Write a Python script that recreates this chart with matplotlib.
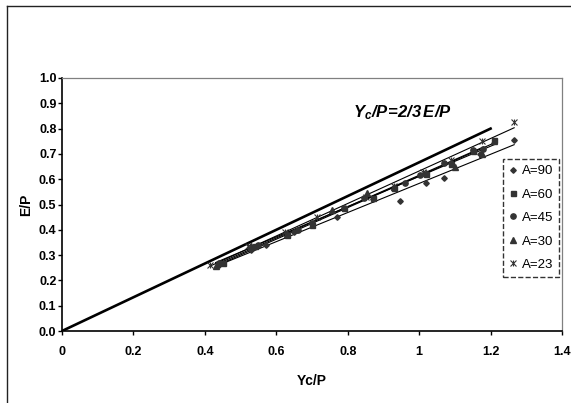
import numpy as np
import matplotlib
matplotlib.use("Agg")
import matplotlib.pyplot as plt
from matplotlib.path import Path
from matplotlib.lines import Line2D

plt.rcParams['font.family'] = ['Liberation Sans', 'DejaVu Sans']
plt.rcParams['mathtext.fontset'] = 'custom'
plt.rcParams['mathtext.rm'] = 'Liberation Sans:bold:italic'
plt.rcParams['mathtext.it'] = 'Liberation Sans:bold:italic'

# data
x_a90 = [0.44, 0.53, 0.57, 0.65, 0.77, 0.87, 0.947, 1.02, 1.07, 1.17, 1.266]
y_a90 = [0.26, 0.32, 0.34, 0.39, 0.45, 0.52, 0.515, 0.585, 0.605, 0.70, 0.755]

x_a60 = [0.45, 0.54, 0.63, 0.70, 0.79, 0.87, 0.93, 1.02, 1.09, 1.15, 1.21]
y_a60 = [0.27, 0.335, 0.38, 0.42, 0.485, 0.525, 0.565, 0.62, 0.66, 0.71, 0.755]

x_a45 = [0.44, 0.55, 0.66, 0.70, 0.79, 0.845, 0.96, 1.003, 1.07, 1.15, 1.18]
y_a45 = [0.27, 0.34, 0.40, 0.425, 0.485, 0.525, 0.585, 0.617, 0.665, 0.715, 0.72]

x_a30 = [0.43, 0.53, 0.63, 0.755, 0.853, 0.93, 1.02, 1.10, 1.175, 1.21]
y_a30 = [0.255, 0.335, 0.385, 0.478, 0.545, 0.57, 0.625, 0.65, 0.70, 0.75]

x_a23 = [0.415, 0.52, 0.625, 0.714, 0.85, 0.93, 1.01, 1.09, 1.175, 1.266]
y_a23 = [0.26, 0.336, 0.39, 0.45, 0.53, 0.575, 0.63, 0.675, 0.75, 0.826]

labels = ['A=90', 'A=60', 'A=45', 'A=30', 'A=23']

# theory line E/P = 2/3 Yc/P
x_theory = [0.0, 1.2]
y_theory = [0.0, 0.8]

xticks = [0, 0.2, 0.4, 0.6, 0.8, 1, 1.2, 1.4]
xticklabels = ['0', '0.2', '0.4', '0.6', '0.8', '1', '1.2', '1.4']
yticks = [0.0, 0.1, 0.2, 0.3, 0.4, 0.5, 0.6, 0.7, 0.8, 0.9, 1.0]

# excel style "star" marker: x with a vertical bar
star = Path([(0, -1), (0, 1), (-1, -1), (1, 1), (-1, 1), (1, -1)],
            [Path.MOVETO, Path.LINETO] * 3)

fig = plt.figure(figsize=(5.71, 4.03), dpi=100)
ax = fig.add_axes([62/571, 1-331/403, 500/571, 253/403])

ax.plot(x_theory, y_theory, color='black', lw=1.9, zorder=3)

series = [(x_a90, y_a90, 'D', 2.8), (x_a60, y_a60, 's', 3.6),
          (x_a45, y_a45, 'o', 3.8), (x_a30, y_a30, '^', 4.0),
          (x_a23, y_a23, star, 4.3)]
mcol = '#333333'
for (xs, ys, m, ms), lab in zip(series, labels):
    xs = np.array(xs)
    ys = np.array(ys)
    if m is star:
        ax.plot(xs, ys, ls='none', marker=m, ms=ms, mec=mcol, mew=0.8, label=lab, zorder=4)
    else:
        ax.plot(xs, ys, ls='none', marker=m, ms=ms, color=mcol, mec=mcol, label=lab, zorder=4)
    # linear trend line
    k, b = np.polyfit(xs, ys, 1)
    xx = np.array([xs.min(), xs.max()])
    ax.plot(xx, k*xx + b, color='black', lw=0.8, zorder=2)

ax.set_xlim(0, 1.4)
ax.set_ylim(0, 1.0)
ax.set_xticks(xticks)
ax.set_xticklabels(xticklabels)
ax.set_yticks(yticks)
ax.set_yticklabels(['%.1f' % v for v in yticks])
for lbl in ax.get_xticklabels() + ax.get_yticklabels():
    lbl.set_fontweight('bold')
    lbl.set_fontsize(9)
ax.tick_params(axis='x', direction='out', length=3, width=1, pad=8)
ax.tick_params(axis='y', direction='out', length=3, width=1, pad=1)

for s in ['left', 'bottom']:
    ax.spines[s].set_linewidth(1.2)
    ax.spines[s].set_color('black')
for s in ['top', 'right']:
    ax.spines[s].set_linewidth(0.9)
    ax.spines[s].set_color('#808080')

ax.set_xlabel('Yc/P', fontsize=10, fontweight='bold')
ax.xaxis.set_label_coords(0.5, -0.17)
ax.set_ylabel('E/P', fontsize=10, fontweight='bold')
ax.yaxis.set_label_coords(-0.058, 0.5)

ax.text(0.815, 0.845, r'$Y_c/P\!=\!2/3\,E/P$', fontsize=12)

leg = ax.legend(loc='upper left', bbox_to_anchor=(503/571, 1-159/403),
                bbox_transform=fig.transFigure, frameon=True, fancybox=False,
                fontsize=9.5, handlelength=0.6, handletextpad=0.4,
                labelspacing=0.85, borderpad=0.45, borderaxespad=0)
frame = leg.get_frame()
frame.set_edgecolor('black')
frame.set_linestyle('--')
frame.set_linewidth(1.0)

# outer chart frame (top and left edges visible)
fig.add_artist(Line2D([7/571, 1], [1-5.5/403, 1-5.5/403], transform=fig.transFigure,
                      color='#222222', lw=1.0))
fig.add_artist(Line2D([7/571, 7/571], [0, 1-5.5/403], transform=fig.transFigure,
                      color='#222222', lw=1.0))

fig.savefig('out.png', dpi=100)
